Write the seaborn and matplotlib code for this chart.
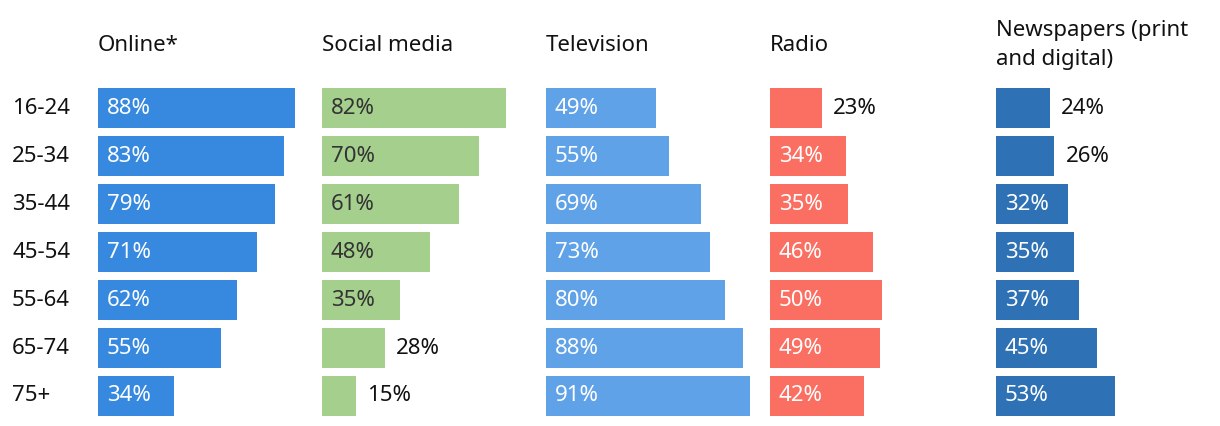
import matplotlib
matplotlib.use("Agg")
import matplotlib.pyplot as plt
import matplotlib.transforms as mtransforms
import seaborn as sns
import pandas as pd

ages = ["16-24", "25-34", "35-44", "45-54", "55-64", "65-74", "75+"]
media = ["Online*", "Social media", "Television", "Radio", "Newspapers (print\nand digital)"]
online = [88, 83, 79, 71, 62, 55, 34]
social = [82, 70, 61, 48, 35, 28, 15]
television = [49, 55, 69, 73, 80, 88, 91]
radio = [23, 34, 35, 46, 50, 49, 42]
newspapers = [24, 26, 32, 35, 37, 45, 53]

colors = ["#3789E0", "#A5CF8D", "#60A2E7", "#FA6F62", "#2E71B5"]
inside_text = ["white", "#333333", "white", "white", "white"]

sns.set_theme(style="white")
plt.rcParams["font.family"] = ["Noto Sans", "DejaVu Sans"]

W, H = 1220, 426
fig = plt.figure(figsize=(W / 100, H / 100), dpi=100)

series = [online, social, television, radio, newspapers]
starts = [98, 322, 546, 770, 996]
top_px, bot_px = 84, 420
fs = 16

for i, (name, vals) in enumerate(zip(media, series)):
    df = pd.DataFrame({"age": ages, "value": vals})
    ax = fig.add_axes([starts[i] / W, (H - bot_px) / H, 224 / W, (bot_px - top_px) / H])
    sns.barplot(data=df, x="value", y="age", color=colors[i], saturation=1,
                width=40 / 48, ax=ax, orient="h", linewidth=0, edgecolor="none")
    ax.set_xlim(0, 100)
    ax.set_ylim(6.5, -0.5)
    for s in ax.spines.values():
        s.set_visible(False)
    ax.set_xticks([])
    ax.set_yticks([])
    ax.set_xlabel("")
    ax.set_ylabel("")
    ax.patch.set_alpha(0)
    for j, v in enumerate(vals):
        if v >= 30:
            ax.text(4.0, j, f"{v}%", va="center", ha="left", color=inside_text[i], fontsize=fs)
        else:
            ax.text(v + 5, j, f"{v}%", va="center", ha="left", color="#111111", fontsize=fs)
    ax.text(0, -0.5 - 39 / 48, name, va="center", ha="left", fontsize=fs,
            color="#111111", linespacing=1.5, clip_on=False)
    if i == 0:
        trans = mtransforms.blended_transform_factory(fig.transFigure, ax.transData)
        for j, a in enumerate(ages):
            ax.text(12 / W, j, a, transform=trans, va="center", ha="left",
                    fontsize=fs, color="#111111")

fig.savefig("out.png", dpi=100)
